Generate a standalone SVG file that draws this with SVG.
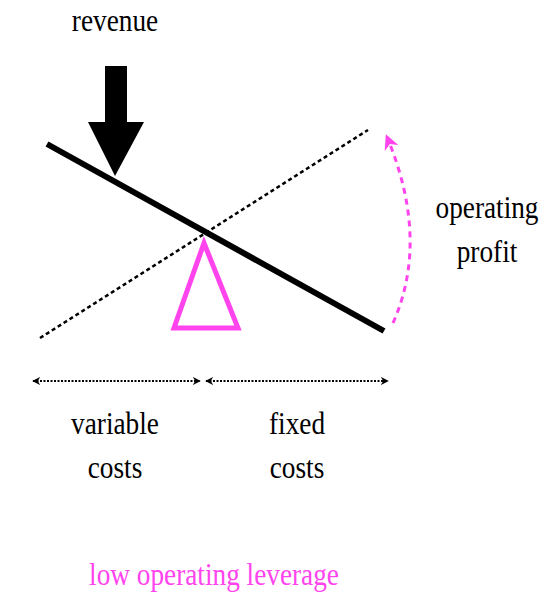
<svg xmlns="http://www.w3.org/2000/svg" width="551" height="595" viewBox="0 0 551 595">
<defs>
<marker id="ah" viewBox="0 0 10 10" refX="9" refY="5" markerWidth="4" markerHeight="4" orient="auto-start-reverse">
<path d="M0,0 L10,5 L0,10 L3,5 z" fill="#000"/>
</marker>
<marker id="pah" viewBox="0 0 10 10" refX="8" refY="5" markerWidth="5" markerHeight="5" orient="auto">
<path d="M0,0 L10,5 L0,10 L3,5 z" fill="#ff44ee"/>
</marker>
</defs>
<rect width="551" height="595" fill="#fff"/>
<g id="connectors">
<line x1="40" y1="338" x2="368" y2="130" stroke="#000" stroke-width="2.5" stroke-dasharray="4 3"/>
<line x1="47" y1="144" x2="384" y2="331" stroke="#000" stroke-width="6"/>
<path d="M393,323 Q430,240 387,137" fill="none" stroke="#ff44ee" stroke-width="3" stroke-dasharray="6 5" marker-end="url(#pah)"/>
<line x1="33" y1="381" x2="200" y2="381" stroke="#000" stroke-width="2" stroke-dasharray="2 1.5" marker-start="url(#ah)" marker-end="url(#ah)"/>
<line x1="206" y1="381" x2="388" y2="381" stroke="#000" stroke-width="2" stroke-dasharray="2 1.5" marker-start="url(#ah)" marker-end="url(#ah)"/>
</g>
<g id="revenue-arrow">
<path d="M105,66 H127 V122 H144 L115,176 L88,122 H105 Z" fill="#000"/>
</g>
<g id="fulcrum">
<path d="M204,243 L238,328 L174,328 Z" fill="none" stroke="#ff44ee" stroke-width="5" stroke-linejoin="miter"/>
</g>
<g id="labels" text-anchor="middle" font-size="31">
<text font-family="Liberation Serif" transform="translate(115,31) scale(0.88,1)">revenue</text>
<text font-family="Liberation Serif" transform="translate(487,218) scale(0.88,1)">operating</text>
<text font-family="Liberation Serif" transform="translate(487,262) scale(0.88,1)">profit</text>
<text font-family="Liberation Serif" transform="translate(115,434) scale(0.88,1)">variable</text>
<text font-family="Liberation Serif" transform="translate(115,478) scale(0.88,1)">costs</text>
<text font-family="Liberation Serif" transform="translate(297,434) scale(0.88,1)">fixed</text>
<text font-family="Liberation Serif" transform="translate(297,478) scale(0.88,1)">costs</text>
<text font-family="Liberation Serif" fill="#ff44ee" transform="translate(214,585) scale(0.88,1)">low operating leverage</text>
</g>
</svg>
